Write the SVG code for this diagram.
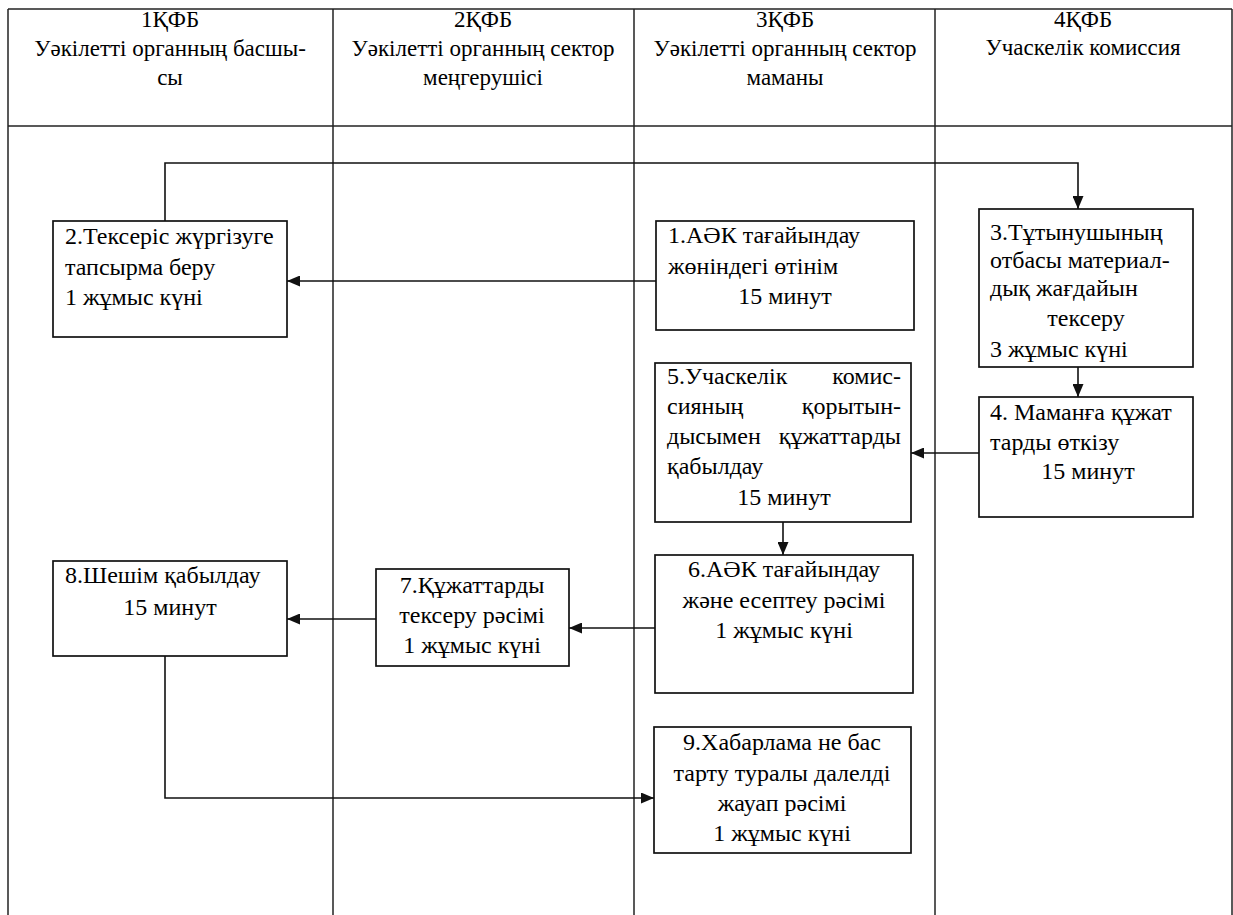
<svg xmlns="http://www.w3.org/2000/svg" width="1233" height="915" viewBox="0 0 1233 915">
<style>
.grid{stroke:#222;stroke-width:1.5;fill:none}
.box{fill:#fff;stroke:#111;stroke-width:1.7}
.con{fill:none;stroke:#111;stroke-width:1.6}
text{font-family:"Liberation Serif","DejaVu Serif",serif;font-size:24px;fill:#000}
.h{font-size:23px}
.m{text-anchor:middle}
.e{text-anchor:end}
</style>
<defs>
<marker id="ah" markerUnits="userSpaceOnUse" markerWidth="13" markerHeight="11" refX="13" refY="5.5" orient="auto">
<path d="M0,0 L13,5.5 L0,11 z" fill="#111"/>
</marker>
</defs>
<rect width="1233" height="915" fill="#fff"/>
<g id="table">
<line class="grid" x1="8" y1="9" x2="1232" y2="9"/>
<line class="grid" x1="8" y1="126" x2="1232" y2="126"/>
<line class="grid" x1="8" y1="9" x2="8" y2="915"/>
<line class="grid" x1="333" y1="9" x2="333" y2="915"/>
<line class="grid" x1="634" y1="9" x2="634" y2="915"/>
<line class="grid" x1="935" y1="9" x2="935" y2="915"/>
<line class="grid" x1="1232" y1="9" x2="1232" y2="915"/>
</g>
<g id="headers">
<text class="m h" x="170" y="27">1ҚФБ</text>
<text class="m h" x="170" y="56">Уәкілетті органның басшы-</text>
<text class="m h" x="170" y="85">сы</text>
<text class="m h" x="483" y="27">2ҚФБ</text>
<text class="m h" x="483" y="56">Уәкілетті органның сектор</text>
<text class="m h" x="483" y="85">меңгерушісі</text>
<text class="m h" x="785" y="27">3ҚФБ</text>
<text class="m h" x="785" y="56">Уәкілетті органның сектор</text>
<text class="m h" x="785" y="85">маманы</text>
<text class="m h" x="1083" y="27">4ҚФБ</text>
<text class="m h" x="1083" y="55">Учаскелік комиссия</text>
</g>
<g id="connectors">
<polyline class="con" points="165,221 165,163 1078,163 1078,209" marker-end="url(#ah)"/>
<line class="con" x1="656" y1="281" x2="287" y2="281" marker-end="url(#ah)"/>
<line class="con" x1="1078" y1="367" x2="1078" y2="397" marker-end="url(#ah)"/>
<line class="con" x1="979" y1="453" x2="911" y2="453" marker-end="url(#ah)"/>
<line class="con" x1="783" y1="522" x2="783" y2="555" marker-end="url(#ah)"/>
<line class="con" x1="655" y1="628" x2="569" y2="628" marker-end="url(#ah)"/>
<line class="con" x1="376" y1="619" x2="287" y2="619" marker-end="url(#ah)"/>
<polyline class="con" points="165,656 165,798 654,798" marker-end="url(#ah)"/>
</g>
<g id="node1">
<rect class="box" x="656" y="221" width="258" height="109"/>
<text x="668" y="243">1.АӘК тағайындау</text>
<text x="668" y="274">жөніндегі өтінім</text>
<text class="m" x="785" y="304">15 минут</text>
</g>
<g id="node2">
<rect class="box" x="53" y="221" width="234" height="116"/>
<text x="65" y="244">2.Тексеріс жүргізуге</text>
<text x="65" y="275">тапсырма беру</text>
<text x="65" y="305">1 жұмыс күні</text>
</g>
<g id="node3">
<rect class="box" x="979" y="209" width="214" height="158"/>
<text x="990" y="240">3.Тұтынушының</text>
<text x="990" y="268">отбасы материал-</text>
<text x="990" y="296">дық жағдайын</text>
<text class="m" x="1086" y="326">тексеру</text>
<text x="990" y="357">3 жұмыс күні</text>
</g>
<g id="node4">
<rect class="box" x="979" y="397" width="214" height="120"/>
<text x="990" y="420">4. Маманға құжат</text>
<text x="990" y="450">тарды өткізу</text>
<text class="m" x="1088" y="479">15 минут</text>
</g>
<g id="node5">
<rect class="box" x="655" y="363" width="256" height="159"/>
<text x="667" y="384">5.Учаскелік</text>
<text class="e" x="901" y="384">комис-</text>
<text x="667" y="414">сияның</text>
<text class="e" x="901" y="414">қорытын-</text>
<text x="667" y="444">дысымен</text>
<text class="e" x="901" y="444">құжаттарды</text>
<text x="667" y="474">қабылдау</text>
<text class="m" x="784" y="505">15 минут</text>
</g>
<g id="node6">
<rect class="box" x="655" y="555" width="258" height="138"/>
<text class="m" x="784" y="577">6.АӘК тағайындау</text>
<text class="m" x="784" y="608">және есептеу рәсімі</text>
<text class="m" x="784" y="638">1 жұмыс күні</text>
</g>
<g id="node7">
<rect class="box" x="376" y="569" width="193" height="97"/>
<text class="m" x="472" y="593">7.Құжаттарды</text>
<text class="m" x="472" y="623">тексеру рәсімі</text>
<text class="m" x="472" y="653">1 жұмыс күні</text>
</g>
<g id="node8">
<rect class="box" x="53" y="561" width="234" height="95"/>
<text x="65" y="583">8.Шешім қабылдау</text>
<text class="m" x="170" y="615">15 минут</text>
</g>
<g id="node9">
<rect class="box" x="654" y="727" width="257" height="126"/>
<text class="m" x="782" y="750">9.Хабарлама не бас</text>
<text class="m" x="782" y="781">тарту туралы далелді</text>
<text class="m" x="782" y="811">жауап рәсімі</text>
<text class="m" x="782" y="841">1 жұмыс күні</text>
</g>
</svg>
